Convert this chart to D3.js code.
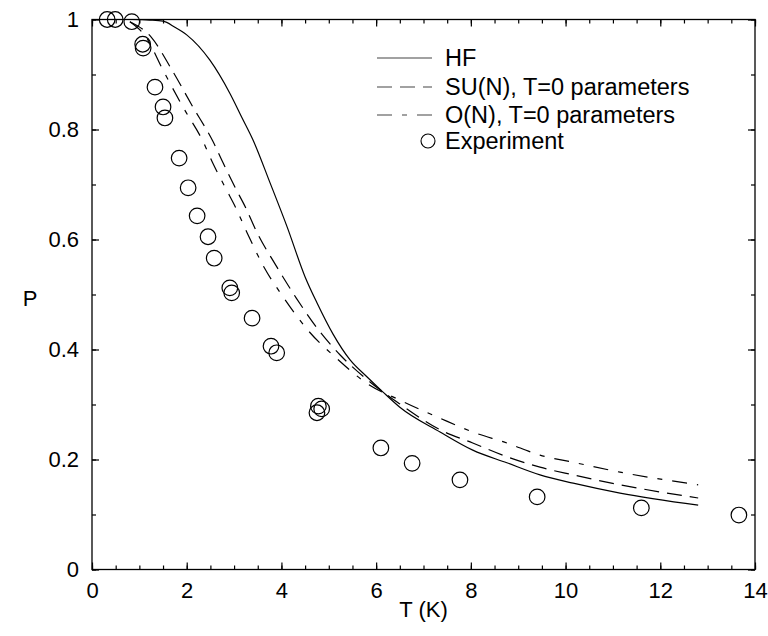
<!DOCTYPE html>
<html>
<head>
<meta charset="utf-8">
<script src="https://cdn.jsdelivr.net/npm/d3@7"></script>
<style>
  body { margin: 0; background: #fff; }
  text { font-family: "Liberation Sans", Arial, Helvetica, sans-serif; fill: #000; }
</style>
</head>
<body>
<div id="chart"></div>
<script>
'use strict'

/* DATA */
// Hartree-Fock curve
var hfT = [0.84, 1.22, 1.5, 1.75, 2.0, 2.49, 2.91, 3.17, 3.40, 3.76, 4.12, 4.50, 4.75, 5.09, 5.45, 5.81, 6.14, 6.50, 7.35, 8.04, 8.76, 9.46, 10.16, 11.15, 12.80];
var hfP = [1.0, 0.999, 0.997, 0.986, 0.972, 0.926, 0.866, 0.821, 0.781, 0.703, 0.623, 0.532, 0.485, 0.428, 0.381, 0.350, 0.323, 0.295, 0.250, 0.217, 0.194, 0.172, 0.157, 0.139, 0.117];

// SU(N), T=0 parameters
var suT = [0.80, 1.25, 1.69, 2.13, 2.55, 2.77, 3.02, 3.25, 3.46, 3.89, 4.31, 4.77, 5.24, 5.87, 6.50, 7.35, 8.04, 8.76, 9.46, 10.16, 11.15, 12.80];
var suP = [0.996, 0.968, 0.908, 0.841, 0.779, 0.739, 0.695, 0.657, 0.617, 0.552, 0.494, 0.437, 0.390, 0.341, 0.301, 0.254, 0.230, 0.205, 0.186, 0.172, 0.154, 0.130];

// O(N), T=0 parameters
var onT = [0.80, 1.14, 1.50, 1.92, 2.34, 2.55, 2.81, 3.04, 3.25, 3.63, 4.05, 4.56, 5.15, 5.83, 6.50, 7.35, 8.04, 8.76, 9.46, 10.16, 11.15, 12.80];
var onP = [0.996, 0.968, 0.908, 0.841, 0.779, 0.739, 0.695, 0.657, 0.617, 0.550, 0.494, 0.435, 0.385, 0.337, 0.308, 0.275, 0.250, 0.230, 0.208, 0.195, 0.177, 0.154];

// experiment points
var expT = [0.32, 0.49, 0.84, 1.07, 1.08, 1.33, 1.50, 1.54, 1.84, 2.03, 2.22, 2.45, 2.58, 2.91, 2.95, 3.38, 3.78, 3.90, 4.75, 4.85, 4.78, 6.10, 6.76, 7.77, 9.40, 11.60, 13.66];
var expP = [1.0, 1.0, 0.996, 0.955, 0.948, 0.877, 0.841, 0.821, 0.748, 0.694, 0.643, 0.605, 0.566, 0.512, 0.503, 0.457, 0.406, 0.394, 0.285, 0.292, 0.297, 0.221, 0.193, 0.163, 0.132, 0.112, 0.099];

var xTicks = [0, 2, 4, 6, 8, 10, 12, 14];
var yTicks = [0, 0.2, 0.4, 0.6, 0.8, 1];
var legendNames = ["HF", "SU(N), T=0 parameters", "O(N), T=0 parameters", "Experiment"];

// layout constants
var W = 768, H = 636;
var padL = 92, padR = 755, padT = 19.5, padB = 569.5;
var fontSize = 22;

var svg = d3.select("#chart").append("svg")
  .attr("width", W)
  .attr("height", H);

var x = d3.scaleLinear().domain([0, 14]).range([padL, padR]);
var y = d3.scaleLinear().domain([0, 1]).range([padB, padT]);

// zip helper
function pts(a, b) { return a.map(function (v, i) { return [v, b[i]]; }); }

/* frame box */
svg.append("rect")
  .attr("x", padL).attr("y", padT)
  .attr("width", padR - padL).attr("height", padB - padT)
  .attr("fill", "none").attr("stroke", "#000").attr("stroke-width", 1.3);

/* axes with inward ticks; minor ticks drawn as a second axis without labels */
function axisPair(gen, scale, major, minor, tr) {
  var g = svg.append("g").attr("transform", tr);
  g.append("g").call(gen(scale).tickValues(minor).tickSize(-4).tickFormat(""));
  g.append("g").attr("class", "major").call(gen(scale).tickValues(major).tickSize(-7).tickPadding(13).tickFormat(d3.format("")));
  g.selectAll(".domain").remove();
  g.selectAll(".tick line").attr("stroke", "#000").attr("stroke-width", 1.2);
  return g;
}
var xMinor = d3.range(0, 14.01, 0.5);
var yMinor = d3.range(0, 1.001, 0.1);

var gx = axisPair(d3.axisBottom, x, xTicks, xMinor, "translate(0," + padB + ")");
gx.selectAll("text").attr("font-size", fontSize).attr("font-family", null);
var gxTop = axisPair(d3.axisTop, x, xTicks, xMinor, "translate(0," + padT + ")");
gxTop.selectAll("text").remove();
var gy = axisPair(d3.axisLeft, y, yTicks, yMinor, "translate(" + padL + ",0)");
gy.selectAll("text").attr("font-size", fontSize).attr("font-family", null);
var gyRight = axisPair(d3.axisRight, y, yTicks, yMinor, "translate(" + padR + ",0)");
gyRight.selectAll("text").remove();

/* axis titles */
svg.append("text")
  .attr("x", (padL + padR) / 2).attr("y", 617)
  .attr("text-anchor", "middle").attr("font-size", fontSize)
  .text("T (K)");
svg.append("text")
  .attr("x", 30).attr("y", 298).attr("dy", "0.35em")
  .attr("text-anchor", "middle").attr("font-size", fontSize)
  .text("P");

/* curves */
var line = d3.line()
  .x(function (d) { return x(d[0]); })
  .y(function (d) { return y(d[1]); })
  .curve(d3.curveMonotoneX);

var series = [
  { data: pts(hfT, hfP), dash: null },
  { data: pts(suT, suP), dash: "15,8" },
  { data: pts(onT, onP), dash: "15,10,5,10" }
];

svg.selectAll("path.curve")
  .data(series)
  .enter().append("path")
  .attr("class", "curve")
  .attr("d", function (d) { return line(d.data); })
  .attr("fill", "none")
  .attr("stroke", "#000")
  .attr("stroke-width", 1.2)
  .attr("stroke-dasharray", function (d) { return d.dash; });

/* experiment circles */
svg.selectAll("circle.exp")
  .data(pts(expT, expP))
  .enter().append("circle")
  .attr("class", "exp")
  .attr("cx", function (d) { return x(d[0]); })
  .attr("cy", function (d) { return y(d[1]); })
  .attr("r", 7.8)
  .attr("fill", "none")
  .attr("stroke", "#000")
  .attr("stroke-width", 1.2);

/* legend */
var legendY = [58, 87, 115, 141];
var legend = svg.append("g");
legendNames.forEach(function (name, i) {
  if (i < 3) {
    legend.append("line")
      .attr("x1", 377).attr("x2", 432)
      .attr("y1", legendY[i]).attr("y2", legendY[i])
      .attr("stroke", "#444").attr("stroke-width", 1.1)
      .attr("stroke-dasharray", series[i].dash);
  } else {
    legend.append("circle")
      .attr("cx", 428).attr("cy", legendY[i]).attr("r", 7)
      .attr("fill", "none").attr("stroke", "#000").attr("stroke-width", 1.1);
  }
  legend.append("text")
    .attr("x", 445).attr("y", legendY[i]).attr("dy", "0.36em")
    .attr("font-size", 23.5)
    .text(name);
});
</script>
</body>
</html>
